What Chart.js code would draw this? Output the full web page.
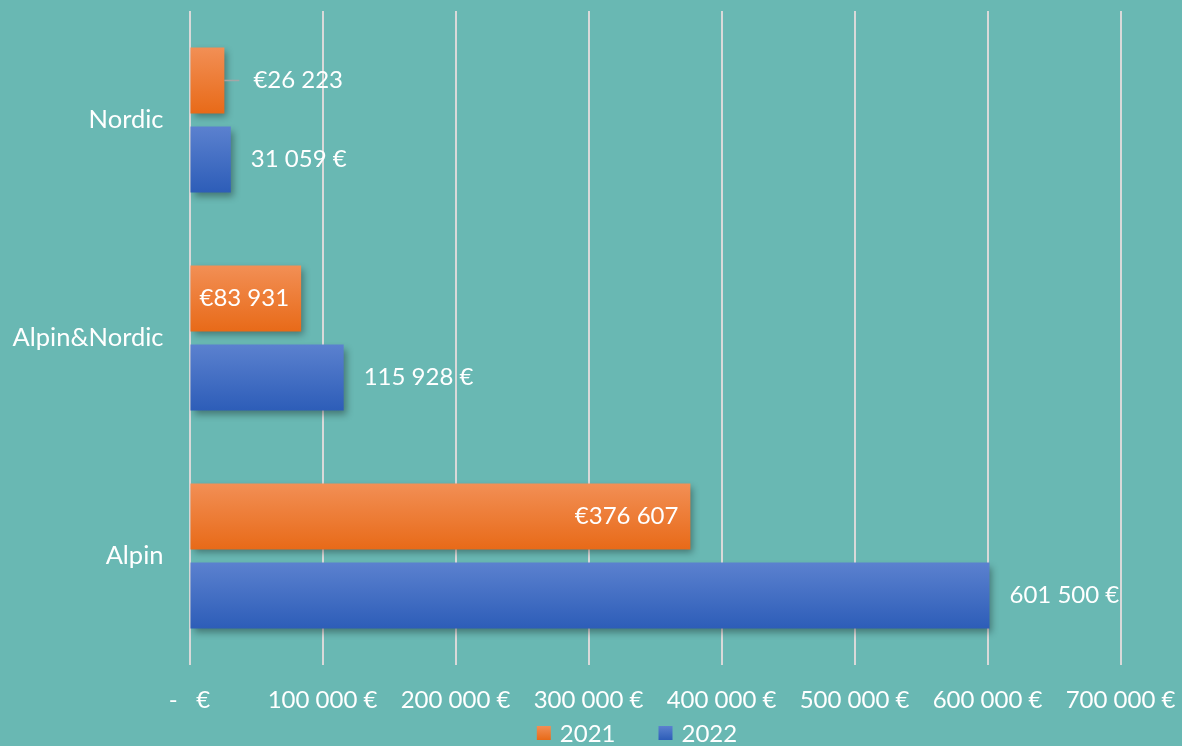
<!DOCTYPE html>
<html>
<head>
<meta charset="utf-8">
<script src="https://cdn.jsdelivr.net/npm/chart.js@4"></script>
<style>
  html, body { margin: 0; padding: 0; background: #69b8b3; }
  #wrap { width: 1182px; height: 746px; position: relative; }
</style>
</head>
<body>
<div id="wrap"><canvas id="chart"></canvas></div>
<script>
// Données
const categories = ['Nordic', 'Alpin&Nordic', 'Alpin'];
const values2021 = [26223, 83931, 376607];
const values2022 = [31059, 115928, 601500];
const seriesLabels = ['2021', '2022'];
const seriesColors = ['#ef7a30', '#4470c4'];
const xTicks = [0, 100000, 200000, 300000, 400000, 500000, 600000, 700000];

const FONT = 'Lato, "Open Sans", sans-serif';

// format "26 223"
function groupDigits(v) {
    return String(Math.round(v)).replace(/\B(?=(\d{3})+(?!\d))/g, ' ');
}
function fmtTick(v) {
    if (v === 0) return '-   €';
    return groupDigits(v) + ' €';
}

// dégradé vertical par barre
function barGradient(top, bottom, fallback) {
    return function(ctx) {
        const el = ctx.element;
        if (!el || el.y === undefined || !el.height) return fallback;
        const g = ctx.chart.ctx.createLinearGradient(0, el.y - el.height / 2, 0, el.y + el.height / 2);
        g.addColorStop(0, top);
        g.addColorStop(1, bottom);
        return g;
    };
}

// ombre portée des barres
const shadowPlugin = {
    id: 'barShadow',
    beforeDatasetsDraw(chart) {
        const c = chart.ctx;
        c.save();
        c.shadowColor = 'rgba(0,0,0,0.35)';
        c.shadowBlur = 7;
        c.shadowOffsetX = 3;
        c.shadowOffsetY = 4;
    },
    afterDatasetsDraw(chart) {
        chart.ctx.restore();
    }
};

// étiquettes de données
const labelPlugin = {
    id: 'valueLabels',
    afterDraw(chart) {
        const c = chart.ctx;
        c.save();
        c.font = '24px ' + FONT;
        c.fillStyle = '#ffffff';
        c.textBaseline = 'middle';
        chart.data.datasets.forEach((ds, di) => {
            const meta = chart.getDatasetMeta(di);
            meta.data.forEach((bar, i) => {
                const v = ds.data[i];
                const text = di === 0 ? '€' + groupDigits(v) : groupDigits(v) + ' €';
                const w = c.measureText(text).width;
                const barW = bar.x - bar.base;
                if (di === 0 && barW > w + 14) {
                    c.textAlign = 'right';
                    c.fillText(text, bar.x - 12, bar.y);
                } else if (di === 0) {
                    // à l'extérieur avec trait de rappel
                    c.strokeStyle = '#a6a6a6';
                    c.lineWidth = 1.5;
                    c.beginPath();
                    c.moveTo(bar.x, bar.y);
                    c.lineTo(bar.x + 15, bar.y);
                    c.stroke();
                    c.textAlign = 'left';
                    c.fillText(text, bar.x + 29, bar.y);
                } else {
                    c.textAlign = 'left';
                    c.fillText(text, bar.x + 20, bar.y);
                }
            });
        });
        c.restore();
    }
};

// légende en bas, dessinée à la main
const legendPlugin = {
    id: 'bottomLegend',
    afterDraw(chart) {
        const c = chart.ctx;
        c.save();
        c.font = '24px ' + FONT;
        c.textBaseline = 'middle';
        const box = 14, gap = 9, between = 43;
        const widths = seriesLabels.map(t => c.measureText(t).width);
        const total = widths.reduce((a, w) => a + box + gap + w, 0) + between * (seriesLabels.length - 1);
        let x = 637 - total / 2;
        const y = 733;
        seriesLabels.forEach((t, i) => {
            const g = c.createLinearGradient(0, y - box / 2, 0, y + box / 2);
            g.addColorStop(0, i === 0 ? '#f28f55' : '#5b81cf');
            g.addColorStop(1, i === 0 ? '#e86a18' : '#2d5db8');
            c.fillStyle = g;
            c.fillRect(x, y - box / 2, box, box);
            c.fillStyle = '#ffffff';
            c.textAlign = 'left';
            c.fillText(t, x + box + gap, y + 1);
            x += box + gap + widths[i] + between;
        });
        c.restore();
    }
};

const chart = new Chart(document.getElementById('chart'), {
    type: 'bar',
    data: {
        labels: categories,
        datasets: [
            {
                label: seriesLabels[0],
                data: values2021,
                backgroundColor: barGradient('#f28f55', '#e86a18', seriesColors[0]),
                borderWidth: 0,
                categoryPercentage: 0.725,
                barPercentage: 0.835
            },
            {
                label: seriesLabels[1],
                data: values2022,
                backgroundColor: barGradient('#5b81cf', '#2d5db8', seriesColors[1]),
                borderWidth: 0,
                categoryPercentage: 0.725,
                barPercentage: 0.835
            }
        ]
    },
    options: {
        indexAxis: 'y',
        responsive: true,
        maintainAspectRatio: false,
        animation: false,
        layout: {
            padding: { left: 0, right: 61.5, top: 11, bottom: 0 }
        },
        plugins: {
            legend: { display: false },
            tooltip: { enabled: false }
        },
        scales: {
            x: {
                min: 0,
                max: 700000,
                afterBuildTicks(scale) {
                    scale.ticks = xTicks.map(v => ({ value: v }));
                },
                afterFit(scale) {
                    scale.height = 81;
                    scale.paddingLeft = 0;
                    scale.paddingRight = 0;
                },
                ticks: {
                    color: '#ffffff',
                    font: { family: FONT, size: 24 },
                    padding: 21,
                    maxRotation: 0,
                    autoSkip: false,
                    callback: v => fmtTick(v)
                },
                grid: {
                    color: '#d9d9d9',
                    lineWidth: 2,
                    drawTicks: false
                },
                border: { display: false }
            },
            y: {
                afterFit(scale) {
                    scale.width = 189.5;
                    scale.paddingTop = 0;
                    scale.paddingBottom = 0;
                },
                ticks: {
                    color: '#ffffff',
                    font: { family: FONT, size: 25.5 },
                    padding: 26
                },
                grid: { display: false, drawTicks: false },
                border: { display: false }
            }
        }
    },
    plugins: [shadowPlugin, labelPlugin, legendPlugin]
});
// deuxième passe pour les dégradés
chart.update('none');
</script>
</body>
</html>
